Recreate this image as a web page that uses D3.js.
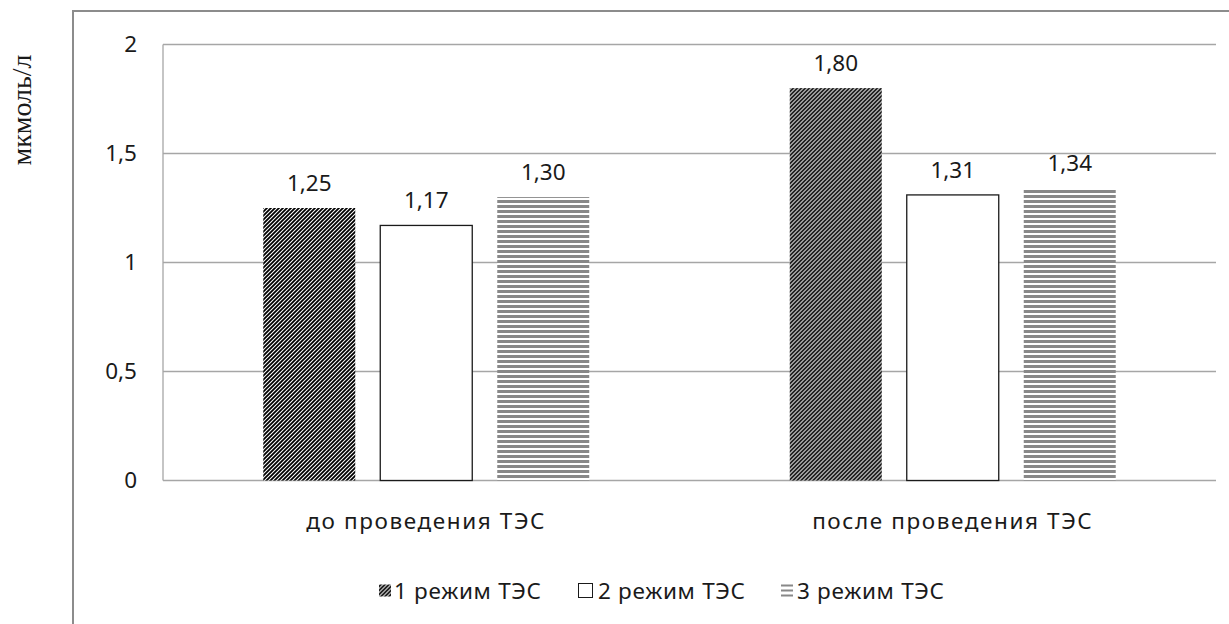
<!DOCTYPE html>
<html><head><meta charset="utf-8">
<script src="https://cdn.jsdelivr.net/npm/d3@7/dist/d3.min.js"></script>
<style>
html,body{margin:0;padding:0;background:#fff;}
svg{display:block;}
</style>
</head><body>
<script>
const categories = ["до проведения ТЭС", "после проведения ТЭС"];
const seriesNames = ["1 режим ТЭС", "2 режим ТЭС", "3 режим ТЭС"];
const series1 = [1.25, 1.80];
const series2 = [1.17, 1.31];
const series3 = [1.30, 1.34];
const yTicks = [0, 0.5, 1, 1.5, 2];
const yTitle = "мкмоль/л";

const W = 1229, H = 624;
const svg = d3.select("body").append("svg").attr("width", W).attr("height", H);
const defs = svg.append("defs");

// diagonal hatch
const hatch = defs.append("pattern").attr("id","hatch").attr("patternUnits","userSpaceOnUse")
  .attr("width",4).attr("height",4);
hatch.append("rect").attr("width",4).attr("height",4).attr("fill","#fff");
hatch.append("path").attr("d","M-1,1 L1,-1 M0,4 L4,0 M3,5 L5,3").attr("stroke","#000").attr("stroke-width",1.8);

// horizontal stripes
const stripes = defs.append("pattern").attr("id","stripes").attr("patternUnits","userSpaceOnUse")
  .attr("width",8).attr("height",5);
stripes.append("rect").attr("width",8).attr("height",5).attr("fill","#fff");
stripes.append("rect").attr("y",0).attr("width",8).attr("height",3).attr("fill","#888");

const fills = ["url(#hatch)", "#fff", "url(#stripes)"];
const strokes = ["none", "#1a1a1a", "none"];

// outer chart border
svg.append("rect").attr("x",73).attr("y",11).attr("width",1200).attr("height",700)
  .attr("fill","none").attr("stroke","#8c8c8c").attr("stroke-width",2);

const plot = {left:163, right:1216, top:44.5, bottom:480.5};
const x0 = d3.scaleBand().domain(categories).range([plot.left, plot.right]).padding(0);
const x1 = d3.scaleBand().domain(d3.range(3)).range([0, x0.bandwidth()])
  .paddingInner(0.2137).paddingOuter(0.857);
const y = d3.scaleLinear().domain([0,2]).range([plot.bottom, plot.top]);

const font = "'Noto Sans', 'Open Sans', sans-serif";
const fs = 22.5;
const fmt = d => String(d).replace(".", ",");

// gridlines
svg.append("g").selectAll("line").data(yTicks).join("line")
  .attr("x1", plot.left).attr("x2", plot.right)
  .attr("y1", d => y(d)).attr("y2", d => y(d))
  .attr("stroke", "#a6a6a6").attr("stroke-width", 1.3);
// left axis line
svg.append("line").attr("x1",plot.left).attr("x2",plot.left).attr("y1",plot.top).attr("y2",plot.bottom)
  .attr("stroke","#a6a6a6").attr("stroke-width",1.3);

// y axis labels
const yAxis = svg.append("g").attr("transform", `translate(${plot.left},0)`)
  .call(d3.axisLeft(y).tickValues(yTicks).tickFormat(fmt).tickSize(0).tickPadding(26));
yAxis.select(".domain").remove();
yAxis.selectAll("text").attr("font-family", font).attr("font-size", fs).attr("fill", "#1a1a1a");

// bars
const data = categories.map((c,i) => ({cat:c, vals:[series1[i], series2[i], series3[i]]}));
const groups = svg.append("g").selectAll("g").data(data).join("g")
  .attr("transform", d => `translate(${x0(d.cat)},0)`);
groups.selectAll("rect").data(d => d.vals).join("rect")
  .attr("x", (d,i) => x1(i)).attr("width", x1.bandwidth())
  .attr("y", d => y(d)).attr("height", d => y(0) - y(d))
  .attr("fill", (d,i) => fills[i]).attr("stroke", (d,i) => strokes[i]).attr("stroke-width", 1.3);
groups.selectAll("text").data(d => d.vals).join("text")
  .attr("x", (d,i) => x1(i) + x1.bandwidth()/2).attr("y", d => y(d) - 17)
  .attr("text-anchor","middle").attr("font-family", font).attr("font-size", fs).attr("fill","#1a1a1a")
  .text(d => d.toFixed(2).replace(".", ","));

// x axis labels
svg.append("g").selectAll("text").data(categories).join("text")
  .attr("x", d => x0(d) + x0.bandwidth()/2).attr("y", 529)
  .attr("text-anchor","middle").attr("font-family", font).attr("font-size", fs)
  .attr("letter-spacing", 1.6).attr("fill","#1a1a1a")
  .text(d => d);

// y title
svg.append("text").attr("transform","translate(31,110) rotate(-90)")
  .attr("text-anchor","middle").attr("font-family","'Liberation Serif', 'DejaVu Serif', serif")
  .attr("font-size", 28).attr("fill","#1a1a1a").text(yTitle);

// legend
const legendX = [379, 578, 780];
const legendTextX = [394, 598, 797];
const lg = svg.append("g").selectAll("g").data(seriesNames).join("g")
  .attr("transform", (d,i) => `translate(${legendX[i]},590.5)`);
lg.each(function(d,i){
  const g = d3.select(this);
  if (i === 0) {
    g.append("rect").attr("x",0).attr("y",-6).attr("width",12).attr("height",12).attr("fill", fills[0]);
  } else if (i === 1) {
    g.append("rect").attr("x",0.5).attr("y",-7).attr("width",14).attr("height",14)
      .attr("fill","#fff").attr("stroke","#1a1a1a").attr("stroke-width",1);
  } else {
    [-5, 0, 5].forEach(dy => g.append("rect").attr("x",1).attr("y",dy-1).attr("width",12).attr("height",2).attr("fill","#888"));
  }
  g.append("text").attr("x", legendTextX[i] - legendX[i]).attr("y", 8)
    .attr("font-family", font).attr("font-size", fs).attr("letter-spacing", 0.7)
    .attr("fill","#1a1a1a").text(d);
});
</script>
</body></html>
